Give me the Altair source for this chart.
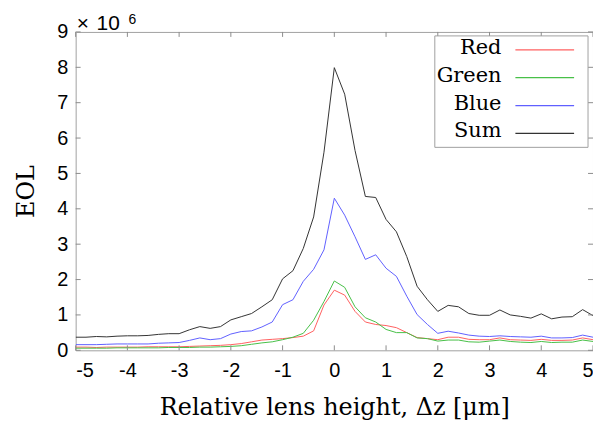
import altair as alt
import pandas as pd

# Relative lens height (µm), sampled every 0.2
x_vals = [-5.0, -4.8, -4.6, -4.4, -4.2, -4.0, -3.8, -3.6, -3.4, -3.2,
          -3.0, -2.8, -2.6, -2.4, -2.2, -2.0, -1.8, -1.6, -1.4, -1.2,
          -1.0, -0.8, -0.6, -0.4, -0.2, 0.0, 0.2, 0.4, 0.6, 0.8,
          1.0, 1.2, 1.4, 1.6, 1.8, 2.0, 2.2, 2.4, 2.6, 2.8,
          3.0, 3.2, 3.4, 3.6, 3.8, 4.0, 4.2, 4.4, 4.6, 4.8, 5.0]

# EOL values in units of 1e6
red = [0.09, 0.09, 0.08, 0.09, 0.09, 0.09, 0.09, 0.10, 0.10, 0.10,
       0.10, 0.11, 0.12, 0.13, 0.14, 0.16, 0.19, 0.24, 0.29, 0.31,
       0.33, 0.36, 0.40, 0.55, 1.28, 1.70, 1.56, 1.10, 0.80, 0.73,
       0.70, 0.64, 0.50, 0.36, 0.33, 0.30, 0.37, 0.37, 0.31, 0.30,
       0.30, 0.35, 0.30, 0.29, 0.28, 0.31, 0.28, 0.28, 0.29, 0.35, 0.30]
green = [0.06, 0.06, 0.06, 0.06, 0.07, 0.07, 0.07, 0.07, 0.07, 0.08,
         0.08, 0.08, 0.09, 0.09, 0.10, 0.11, 0.13, 0.17, 0.21, 0.24,
         0.30, 0.37, 0.48, 0.85, 1.38, 1.96, 1.78, 1.23, 0.92, 0.80,
         0.59, 0.50, 0.50, 0.35, 0.33, 0.26, 0.29, 0.29, 0.24, 0.23,
         0.26, 0.29, 0.25, 0.23, 0.22, 0.25, 0.22, 0.23, 0.23, 0.29, 0.25]
blue = [0.16, 0.16, 0.16, 0.17, 0.18, 0.18, 0.18, 0.18, 0.20, 0.21,
        0.22, 0.28, 0.35, 0.30, 0.33, 0.46, 0.53, 0.55, 0.66, 0.80,
        1.29, 1.43, 1.95, 2.29, 2.84, 4.30, 3.82, 3.21, 2.57, 2.70,
        2.32, 2.09, 1.53, 1.01, 0.73, 0.48, 0.54, 0.49, 0.43, 0.40,
        0.39, 0.41, 0.39, 0.38, 0.37, 0.40, 0.35, 0.35, 0.36, 0.43, 0.37]
total = [0.37, 0.37, 0.39, 0.38, 0.40, 0.41, 0.41, 0.42, 0.45, 0.47,
         0.47, 0.58, 0.67, 0.62, 0.67, 0.86, 0.95, 1.04, 1.23, 1.43,
         2.02, 2.25, 2.88, 3.77, 5.60, 7.99, 7.24, 5.65, 4.35, 4.32,
         3.70, 3.35, 2.65, 1.81, 1.43, 1.10, 1.27, 1.23, 1.04, 0.99,
         0.99, 1.14, 1.00, 0.96, 0.91, 1.03, 0.89, 0.94, 0.95, 1.15, 0.98]

series_names = ["Red", "Green", "Blue", "Sum"]
series_colors = ["#ff6060", "#48c048", "#6060ff", "#333333"]
x_ticks = [-5, -4, -3, -2, -1, 0, 1, 2, 3, 4, 5]
y_ticks = [0, 1, 2, 3, 4, 5, 6, 7, 8, 9]

W, H = 520, 320
FRAME = "#a0a0a0"
TICK = "#8c8c8c"

rows = []
for i, (name, vals) in enumerate(zip(series_names, [red, green, blue, total])):
    for xv, yv in zip(x_vals, vals):
        rows.append({"x": xv, "y": yv, "series": name, "order": i})
df = pd.DataFrame(rows)

color_scale = alt.Scale(domain=series_names, range=series_colors)
x_scale = alt.Scale(domain=[-5, 5], nice=False, zero=False)
y_scale = alt.Scale(domain=[0, 9], nice=False, zero=False)
x_axis = alt.Axis(values=x_ticks, title="Relative lens height, Δz [μm]",
                  labelExpr="'' + datum.value", labelPadding=10, titlePadding=16)
y_axis = alt.Axis(values=y_ticks, title="EOL", labelExpr="'' + datum.value",
                  labelPadding=8, titlePadding=18)

lines = alt.Chart(df).mark_line(strokeWidth=1, clip=True).encode(
    x=alt.X("x:Q", scale=x_scale, axis=x_axis),
    y=alt.Y("y:Q", scale=y_scale, axis=y_axis),
    color=alt.Color("series:N", scale=color_scale, legend=None),
    detail="order:O",
)

xt = pd.DataFrame({"t": x_ticks})
yt = pd.DataFrame({"t": y_ticks})
tick_len = 5
bottom_ticks = alt.Chart(xt).mark_rule(color=TICK, strokeWidth=1).encode(
    x=alt.X("t:Q", scale=x_scale, axis=x_axis), y=alt.value(H), y2=alt.value(H - tick_len))
top_ticks = alt.Chart(xt).mark_rule(color=TICK, strokeWidth=1).encode(
    x=alt.X("t:Q", scale=x_scale, axis=x_axis), y=alt.value(0), y2=alt.value(tick_len))
left_ticks = alt.Chart(yt).mark_rule(color=TICK, strokeWidth=1).encode(
    y=alt.Y("t:Q", scale=y_scale, axis=y_axis), x=alt.value(0), x2=alt.value(tick_len))
right_ticks = alt.Chart(yt).mark_rule(color=TICK, strokeWidth=1).encode(
    y=alt.Y("t:Q", scale=y_scale, axis=y_axis), x=alt.value(W), x2=alt.value(W - tick_len))

one = pd.DataFrame({"a": [0]})
exp_times = alt.Chart(one).mark_text(text="×", align="left", baseline="alphabetic",
                                     font="Liberation Sans", fontSize=21, color="black").encode(
    x=alt.value(1), y=alt.value(-2))
exp_ten = alt.Chart(one).mark_text(text="10", align="left", baseline="alphabetic",
                                   font="Liberation Sans", fontSize=21, color="black").encode(
    x=alt.value(21), y=alt.value(-2))
exp_sup = alt.Chart(one).mark_text(text="6", align="left", baseline="alphabetic",
                                   font="Liberation Sans", fontSize=14, color="black").encode(
    x=alt.value(53), y=alt.value(-8))

# Legend (labels to the left of line samples)
leg_rows_y = [18, 46, 74, 102]
leg_layers = [alt.Chart(one).mark_rect(fill="white", stroke=FRAME, strokeWidth=1).encode(
    x=alt.value(361), x2=alt.value(515), y=alt.value(4), y2=alt.value(116))]
for name, col, ry in zip(series_names, series_colors, leg_rows_y):
    leg_layers.append(alt.Chart(one).mark_rule(strokeWidth=1.2, stroke=col, color=col).encode(
        x=alt.value(442), x2=alt.value(501), y=alt.value(ry)))
    leg_layers.append(alt.Chart(one).mark_text(text=name, align="right", baseline="middle", dy=-2,
                                               font="DejaVu Serif", fontSize=21, color="black").encode(
        x=alt.value(428), y=alt.value(ry)))

chart = alt.layer(lines, bottom_ticks, top_ticks, left_ticks, right_ticks,
                  exp_times, exp_ten, exp_sup, *leg_layers).properties(
    width=W, height=H,
    autosize=alt.AutoSizeParams(type="none"),
    padding={"left": 68, "top": 23, "right": 0, "bottom": 71},
).configure_view(stroke=FRAME, strokeWidth=1).configure_axis(
    domain=False, ticks=False, grid=False,
    labelFont="Liberation Sans", labelFontSize=20, labelColor="black",
    titleFont="DejaVu Serif", titleFontSize=24, titleFontWeight="normal", titleColor="black",
)

chart.save("out.html", embed_options={"renderer": "svg", "actions": False})
